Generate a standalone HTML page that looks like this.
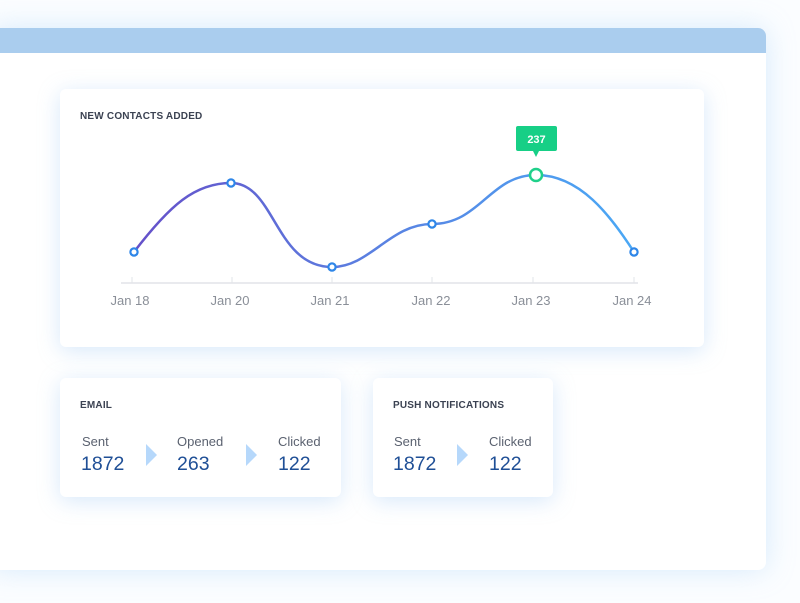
<!DOCTYPE html>
<html><head><meta charset="utf-8"><style>
body{margin:0;width:800px;height:603px;background:#fbfdff;font-family:"Liberation Sans",sans-serif;position:relative;overflow:hidden}
.panel{position:absolute;left:-10px;top:28px;width:776px;height:542px;background:#fff;border-radius:8px;box-shadow:0 0 28px rgba(150,200,245,.35);overflow:hidden}
.bar{position:absolute;left:0;top:0;width:100%;height:25px;background:#aacdee}
.card{position:absolute;background:#fff;border-radius:6px;box-shadow:0 4px 22px rgba(140,190,240,.35)}
.t{position:absolute;font-size:10px;font-weight:bold;color:#3b4252;letter-spacing:.2px}
.lab{position:absolute;font-size:13px;color:#5b6270}
.num{position:absolute;font-size:19.5px;color:#1f4f96}
.arr{position:absolute;width:0;height:0;border-top:11px solid transparent;border-bottom:11px solid transparent;border-left:11px solid #b6d8fb}
</style></head><body>
<div class="panel"><div class="bar"></div></div>
<div class="card" style="left:60px;top:89px;width:644px;height:258px"></div>
<div class="t" style="left:80px;top:111px">NEW CONTACTS ADDED</div>
<svg style="position:absolute;left:0;top:0" width="800" height="603">
<defs><linearGradient id="g" x1="134" x2="634" y1="0" y2="0" gradientUnits="userSpaceOnUse"><stop offset="0" stop-color="#6550c9"/><stop offset=".45" stop-color="#5b7ee0"/><stop offset="1" stop-color="#4aa8f5"/></linearGradient></defs>
<line x1="121" y1="283" x2="638" y2="283" stroke="#e2e4e8" stroke-width="1.5"/>
<g stroke="#e2e4e8" stroke-width="1"><line x1="132" y1="277" x2="132" y2="283"/><line x1="232" y1="277" x2="232" y2="283"/><line x1="332" y1="277" x2="332" y2="283"/><line x1="432" y1="277" x2="432" y2="283"/><line x1="533" y1="277" x2="533" y2="283"/><line x1="634" y1="277" x2="634" y2="283"/></g>
<path d="M134,252 C170,205 195,183 231,183 C275,183 275,267 332,267 C370,267 390,224 432,224 C480,224 490,175 536,175 C580,175 610,215 634,252" fill="none" stroke="url(#g)" stroke-width="2.5"/>
<g fill="#fff" stroke="#2e86e8" stroke-width="2.2"><circle cx="134" cy="252" r="3.6"/><circle cx="231" cy="183" r="3.6"/><circle cx="332" cy="267" r="3.6"/><circle cx="432" cy="224" r="3.6"/><circle cx="634" cy="252" r="3.6"/></g>
<circle cx="536" cy="175" r="6" fill="#fff" stroke="#1fd08a" stroke-width="2.5"/>
<rect x="516" y="126" width="41" height="25" rx="2" fill="#17cf86"/>
<polygon points="533,151 539,151 536,157" fill="#17cf86"/>
<text x="536.5" y="143" font-size="11" font-weight="bold" fill="#fff" text-anchor="middle" font-family="Liberation Sans">237</text>
<g font-size="13" fill="#8a8f98" text-anchor="middle" font-family="Liberation Sans"><text x="130" y="305">Jan 18</text><text x="230" y="305">Jan 20</text><text x="330" y="305">Jan 21</text><text x="431" y="305">Jan 22</text><text x="531" y="305">Jan 23</text><text x="632" y="305">Jan 24</text></g>
</svg>
<div class="card" style="left:60px;top:378px;width:281px;height:119px"></div>
<div class="card" style="left:373px;top:378px;width:180px;height:119px"></div>
<div class="t" style="left:80px;top:400px">EMAIL</div>
<div class="t" style="left:393px;top:400px">PUSH NOTIFICATIONS</div>
<div class="lab" style="left:82px;top:434px">Sent</div><div class="num" style="left:81px;top:453px">1872</div>
<div class="arr" style="left:146px;top:444px"></div>
<div class="lab" style="left:177px;top:434px">Opened</div><div class="num" style="left:177px;top:453px">263</div>
<div class="arr" style="left:246px;top:444px"></div>
<div class="lab" style="left:278px;top:434px">Clicked</div><div class="num" style="left:278px;top:453px">122</div>
<div class="lab" style="left:394px;top:434px">Sent</div><div class="num" style="left:393px;top:453px">1872</div>
<div class="arr" style="left:457px;top:444px"></div>
<div class="lab" style="left:489px;top:434px">Clicked</div><div class="num" style="left:489px;top:453px">122</div>
</body></html>
